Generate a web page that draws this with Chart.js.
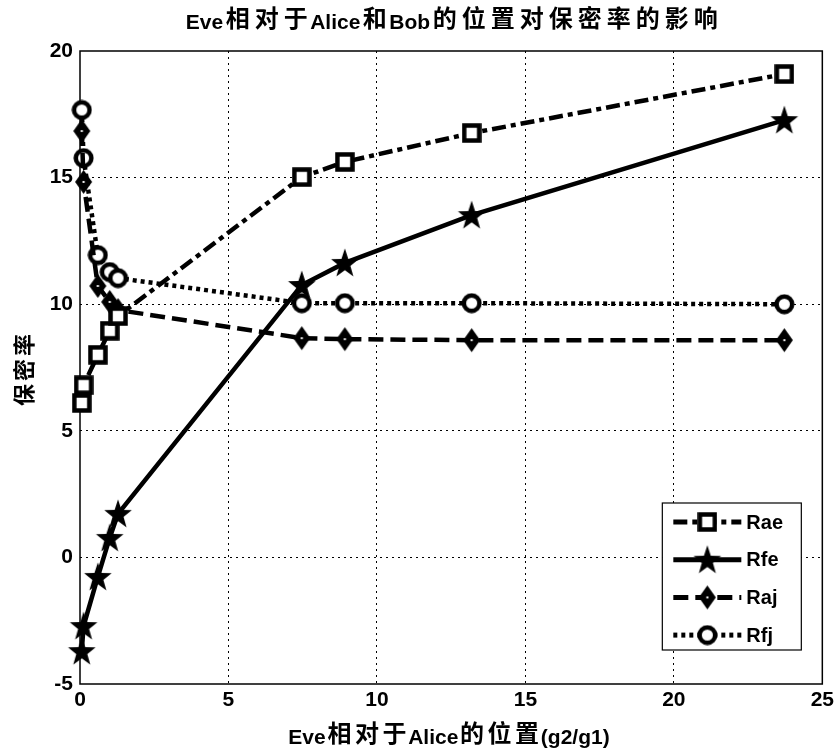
<!DOCTYPE html>
<html>
<head>
<meta charset="utf-8">
<script src="https://cdn.jsdelivr.net/npm/chart.js@4.4.0/dist/chart.umd.min.js"></script>
<style>
  html, body { margin: 0; padding: 0; background: #fff; }
  #wrap { width: 838px; height: 749px; }
</style>
</head>
<body>
<div id="wrap"><canvas id="secrecyChart" width="838" height="749"></canvas></div>
<script>
// Eve position relative to Alice (g2/g1) and secrecy rates of each scheme
const positions = [0.06, 0.12, 0.6, 1.0, 1.28, 7.47, 8.92, 13.19, 23.72];
const rae = [6.1, 6.8, 8.0, 8.95, 9.53, 15.02, 15.62, 16.76, 19.09];
const rfe = [-3.7, -2.71, -0.77, 0.77, 1.72, 10.76, 11.63, 13.52, 17.27];
const raj = [16.84, 14.83, 10.72, 10.09, 9.77, 8.66, 8.62, 8.58, 8.58];
const rfj = [17.67, 15.77, 11.94, 11.27, 11.03, 10.04, 10.04, 10.04, 10.0];
const seriesNames = ['Rae', 'Rfe', 'Raj', 'Rfj'];
const xTicks = [0, 5, 10, 15, 20, 25];
const yTicks = [-5, 0, 5, 10, 15, 20];

const chartTitle = 'Eve相对于Alice和Bob的位置对保密率的影响';
const xTitle = 'Eve相对于Alice的位置(g2/g1)';
const yTitle = '保密率';

const latinFamily = '"Liberation Sans", Arial, sans-serif';
const cjkFamily = '"Noto Sans CJK SC", sans-serif';
const tickFont = { family: latinFamily, size: 21, weight: 'bold' };

// Marker images
function makeMarker(w, h, draw) {
    const c = document.createElement('canvas');
    c.width = w;
    c.height = h;
    draw(c.getContext('2d'), w, h);
    return c;
}

const squareMarker = makeMarker(20, 20, (g, w, h) => {
    g.fillStyle = '#fff';
    g.fillRect(2, 2, w - 4, h - 4);
    g.lineWidth = 4.5;
    g.strokeStyle = '#000';
    g.strokeRect(2.5, 2.5, w - 5, h - 5);
});

const starMarker = makeMarker(30, 32, (g, w, h) => {
    const rx = 14.5, ry = 15.5;
    const cx = w / 2, cy = h / 2 + 1;
    g.beginPath();
    for (let i = 0; i < 10; i++) {
        const r = i % 2 ? 0.4 : 1;
        const a = -Math.PI / 2 + i * Math.PI / 5;
        const px = cx + Math.cos(a) * rx * r;
        const py = cy + Math.sin(a) * ry * r;
        if (i === 0) g.moveTo(px, py); else g.lineTo(px, py);
    }
    g.closePath();
    g.fillStyle = '#000';
    g.fill();
});

const diamondMarker = makeMarker(19, 26, (g, w, h) => {
    g.beginPath();
    g.moveTo(w / 2, 1);
    g.lineTo(w - 1, h / 2);
    g.lineTo(w / 2, h - 1);
    g.lineTo(1, h / 2);
    g.closePath();
    g.fillStyle = '#000';
    g.fill();
    g.fillStyle = '#fff';
    g.fillRect(w / 2 - 1, h / 2 - 1, 2, 2);
});

const circleMarker = makeMarker(21, 21, (g, w, h) => {
    g.beginPath();
    g.arc(w / 2, h / 2, 7.8, 0, Math.PI * 2);
    g.fillStyle = '#fff';
    g.fill();
    g.lineWidth = 4.5;
    g.strokeStyle = '#000';
    g.stroke();
});

function points(ys) {
    return positions.map((x, i) => ({ x: x, y: ys[i] }));
}

function series(label, ys, marker, dash, width) {
    return {
        label: label,
        data: points(ys),
        borderColor: '#000',
        backgroundColor: '#000',
        borderWidth: width,
        borderDash: dash,
        borderCapStyle: 'butt',
        pointStyle: marker,
        pointRadius: 10,
        tension: 0,
        fill: false,
        clip: false
    };
}

// Mixed Latin / CJK text, CJK glyphs on a fixed advance
function isCJK(ch) {
    return /[\u3400-\u9fff]/.test(ch);
}

function drawMixed(ctx, text, cx, baseline, latinSize, cjkSize, cjkAdvance) {
    const latinFont = 'bold ' + latinSize + 'px ' + latinFamily;
    const cjkFont = 'bold ' + cjkSize + 'px ' + cjkFamily;
    const parts = [];
    let total = 0;
    for (const ch of text) {
        if (isCJK(ch)) {
            parts.push([ch, cjkFont, cjkAdvance, -2]);
            total += cjkAdvance;
        } else {
            ctx.font = latinFont;
            const w = ctx.measureText(ch).width;
            parts.push([ch, latinFont, w, 0]);
            total += w;
        }
    }
    let x = cx - total / 2;
    ctx.textAlign = 'center';
    ctx.textBaseline = 'alphabetic';
    ctx.fillStyle = '#000';
    for (const [ch, font, w, dy] of parts) {
        ctx.font = font;
        ctx.fillText(ch, x + w / 2, baseline + dy);
        x += w;
    }
}

// Axis box, drawn under the marks
const framePlugin = {
    id: 'frame',
    beforeDatasetsDraw(chart) {
        const { ctx, chartArea: a } = chart;
        ctx.save();
        ctx.strokeStyle = '#000';
        ctx.lineWidth = 1.5;
        ctx.strokeRect(a.left, a.top, a.right - a.left, a.bottom - a.top);
        ctx.restore();
    }
};

// Titles and the boxed legend
const labelsPlugin = {
    id: 'labels',
    afterDraw(chart) {
        const { ctx, chartArea: a } = chart;
        ctx.save();
        drawMixed(ctx, chartTitle, 453, 29, 21, 24, 29);
        drawMixed(ctx, xTitle, 449, 744, 21, 24, 27.5);
        ctx.translate(34, 370);
        ctx.rotate(-Math.PI / 2);
        drawMixed(ctx, yTitle, 0, 0, 21, 22, 25);
        ctx.restore();

        // legend
        const boxW = 139, boxH = 147;
        const bx = a.right - 21 - boxW;
        const by = a.bottom - 34 - boxH;
        ctx.save();
        ctx.fillStyle = '#fff';
        ctx.fillRect(bx, by, boxW, boxH);
        ctx.strokeStyle = '#000';
        ctx.lineWidth = 1.2;
        ctx.strokeRect(bx, by, boxW, boxH);
        chart.data.datasets.forEach((ds, i) => {
            const y = by + 19 + i * 37.7;
            ctx.save();
            ctx.strokeStyle = ds.borderColor;
            ctx.lineWidth = ds.borderWidth + 0.5;
            ctx.setLineDash(ds.borderDash);
            ctx.beginPath();
            ctx.moveTo(bx + 11, y);
            ctx.lineTo(bx + 79, y);
            ctx.stroke();
            ctx.restore();
            const m = ds.pointStyle;
            ctx.drawImage(m, bx + 45 - m.width / 2, y - m.height / 2);
            ctx.font = 'bold 20px ' + latinFamily;
            ctx.fillStyle = '#000';
            ctx.textAlign = 'left';
            ctx.textBaseline = 'middle';
            ctx.fillText(ds.label, bx + 84, y + 1);
        });
        ctx.restore();
    }
};

function edgeHidden(min, max) {
    return (c) => (c.tick && (c.tick.value === min || c.tick.value === max)) ? 'rgba(0,0,0,0)' : '#000';
}

new Chart(document.getElementById('secrecyChart'), {
    type: 'line',
    data: {
        datasets: [
            series(seriesNames[0], rae, squareMarker, [14, 5, 5, 5], 4.5),
            series(seriesNames[1], rfe, starMarker, [], 4.5),
            series(seriesNames[2], raj, diamondMarker, [15, 7], 4.5),
            series(seriesNames[3], rfj, circleMarker, [4, 4], 4.5)
        ]
    },
    options: {
        responsive: false,
        animation: false,
        layout: {
            padding: { top: 51, right: 15, left: 0, bottom: 0 }
        },
        plugins: {
            legend: { display: false },
            title: { display: false },
            tooltip: { enabled: false }
        },
        scales: {
            x: {
                type: 'linear',
                min: 0,
                max: 25,
                afterBuildTicks: (s) => { s.ticks = xTicks.map(v => ({ value: v })); },
                afterFit: (s) => { s.height = 65; },
                ticks: { font: tickFont, color: '#000', padding: 4, maxRotation: 0 },
                grid: { color: edgeHidden(0, 25), lineWidth: 1, drawTicks: false },
                border: { display: false, dash: [2, 4] }
            },
            y: {
                min: -5,
                max: 20,
                afterBuildTicks: (s) => { s.ticks = yTicks.map(v => ({ value: v })); },
                afterFit: (s) => { s.width = 80; },
                ticks: { font: tickFont, color: '#000', padding: 7 },
                grid: { color: edgeHidden(-5, 20), lineWidth: 1, drawTicks: false },
                border: { display: false, dash: [2, 4] }
            }
        }
    },
    plugins: [framePlugin, labelsPlugin]
});
</script>
</body>
</html>
